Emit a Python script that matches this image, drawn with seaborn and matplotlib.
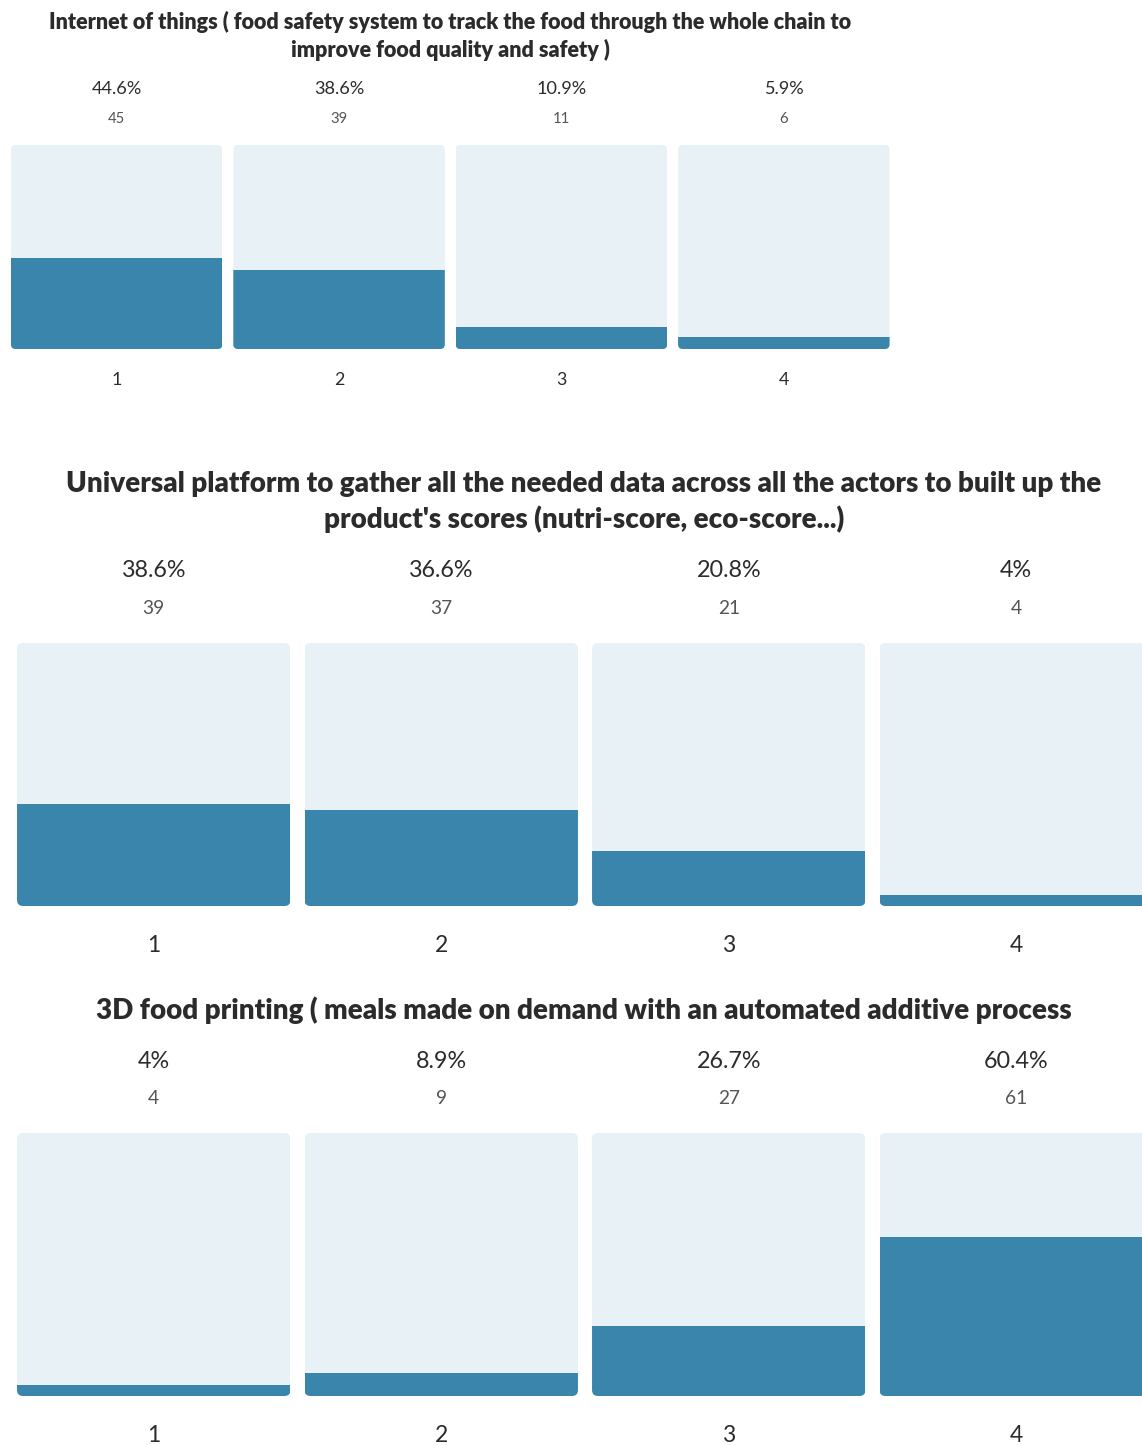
import numpy as np
import pandas as pd
import seaborn as sns
import matplotlib
matplotlib.use("Agg")
import matplotlib.pyplot as plt
from matplotlib.patches import FancyBboxPatch

# ---- data -------------------------------------------------------------
categories = ["1", "2", "3", "4"]

iot_title = ("Internet of things ( food safety system to track the food through the whole chain to\n"
             "improve food quality and safety )")
iot_pct = [44.6, 38.6, 10.9, 5.9]
iot_count = [45, 39, 11, 6]

platform_title = ("Universal platform to gather all the needed data across all the actors to built up the\n"
                  "product's scores (nutri-score, eco-score...)")
platform_pct = [38.6, 36.6, 20.8, 4.0]
platform_count = [39, 37, 21, 4]

printing_title = "3D food printing ( meals made on demand with an automated additive process"
printing_pct = [4.0, 8.9, 26.7, 60.4]
printing_count = [4, 9, 27, 61]

# ---- style ------------------------------------------------------------
DARK = "#3a85ab"
LIGHT = "#e8f1f5"
TEXT = "#2b2b2b"
SUB = "#555555"

sns.set_theme(style="white")
plt.rcParams["font.family"] = ["Lato", "DejaVu Sans"]

W, H = 1142, 1445
fig = plt.figure(figsize=(W / 100, H / 100), dpi=100)
fig.patch.set_facecolor("white")


def px_axes(left, top, right, bottom):
    return fig.add_axes([left / W, 1 - bottom / H, (right - left) / W, (bottom - top) / H])


def panel(title, pcts, counts, box, title_xy, s):
    left, top, right, bottom = box
    ax = px_axes(left, top, right, bottom)
    df = pd.DataFrame({"option": categories, "pct": pcts, "full": [100] * len(categories)})
    width = 0.951
    sns.barplot(data=df, x="option", y="full", color=LIGHT, width=width, ax=ax,
                saturation=1, edgecolor="none", linewidth=0)
    sns.barplot(data=df, x="option", y="pct", color=DARK, width=width, ax=ax,
                saturation=1, edgecolor="none", linewidth=0)
    ax.set_xlim(-0.5, len(categories) - 0.5)
    ax.set_ylim(0, 100)
    ax.set_xlabel("")
    ax.set_ylabel("")
    ax.set_yticks([])
    sns.despine(ax=ax, left=True, bottom=True)

    # rounded outline for each column, used to clip both layers
    ppx = (right - left) / len(categories)
    ppy = (bottom - top) / 100.0
    n = len(categories)
    bg, fg = ax.patches[:n], ax.patches[n:2 * n]
    for b, f in zip(bg, fg):
        x0, y0 = b.get_x(), b.get_y()
        rb = FancyBboxPatch((x0, y0), b.get_width(), b.get_height(),
                            boxstyle=f"round,pad=0,rounding_size={6 * s / ppx}",
                            mutation_aspect=ppx / ppy, transform=ax.transData)
        b.set_clip_path(rb)
        f.set_clip_path(rb)

    for i, (p, c) in enumerate(zip(pcts, counts)):
        ax.annotate(f"{p:g}%", xy=(i, 1), xycoords=("data", "axes fraction"),
                    xytext=(0, 72 * s * 0.72), textcoords="offset points",
                    ha="center", va="center", fontsize=16.8 * s, color=TEXT)
        ax.annotate(f"{c}", xy=(i, 1), xycoords=("data", "axes fraction"),
                    xytext=(0, 34 * s * 0.72), textcoords="offset points",
                    ha="center", va="center", fontsize=13.8 * s, color=SUB)

    ax.tick_params(axis="x", length=0, pad=40 * s * 0.72, labelsize=16.5 * s, labelcolor=TEXT)
    for lab in ax.get_xticklabels():
        lab.set_va("center")

    tx, ty = title_xy
    fig.text(tx / W, 1 - ty / H, title, ha="center", va="center", fontsize=20.0 * s,
             fontweight="heavy", color=TEXT, linespacing=1.35)
    return ax


s1 = 204 / 263
panel(iot_title, iot_pct, iot_count, (5.5, 145, 895, 349), (450, 36), s1)
panel(platform_title, platform_pct, platform_count, (10, 643, 1160, 906), (584, 502), 1.0)
panel(printing_title, printing_pct, printing_count, (10, 1133, 1160, 1396), (584, 1010), 1.0)

fig.savefig("out.png", dpi=100, facecolor="white")
